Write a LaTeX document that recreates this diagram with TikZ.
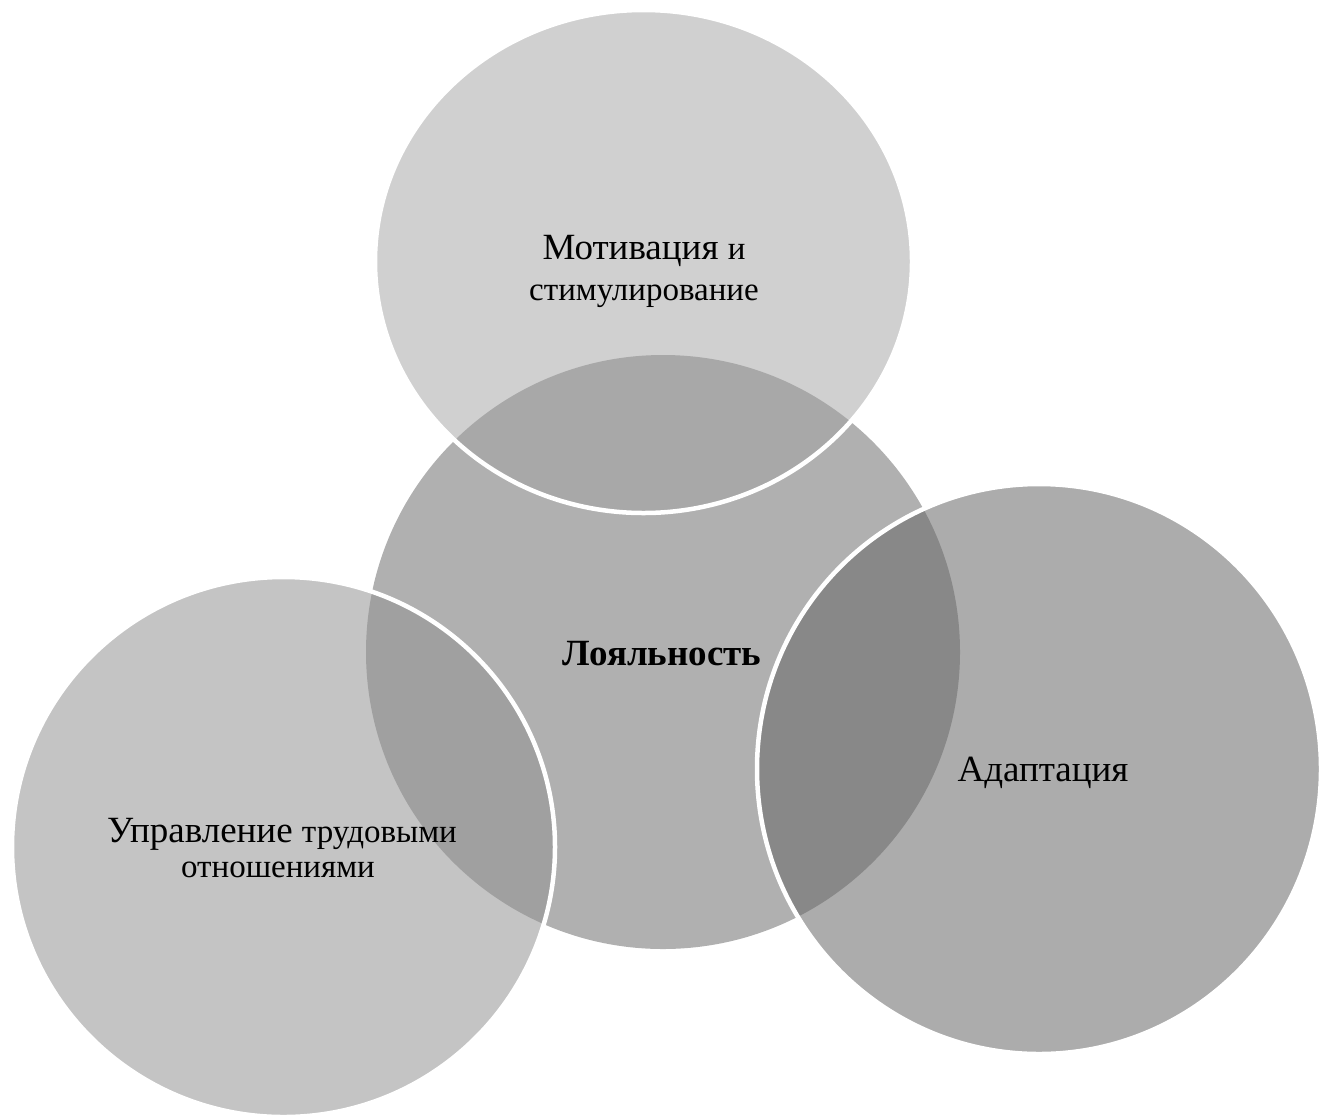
\documentclass[tikz,border=0pt]{standalone}
\usepackage{fontspec}
\setmainfont{Liberation Serif}
\definecolor{ctop}{HTML}{D0D0D0}
\definecolor{cmid}{HTML}{B0B0B0}
\definecolor{cleft}{HTML}{C4C4C4}
\definecolor{cright}{HTML}{ACACAC}
\definecolor{otop}{HTML}{A8A8A8}
\definecolor{oleft}{HTML}{A0A0A0}
\definecolor{oright}{HTML}{888888}
\begin{document}
\begin{tikzpicture}[x=1pt,y=-1pt,
  rim/.style={draw=white,line width=4.5pt},
  big/.style={font=\fontsize{37}{41}\selectfont,anchor=base,inner sep=0pt},
  small/.style={font=\fontsize{33}{41}\selectfont,anchor=base,inner sep=0pt}]
\useasboundingbox (0,0) rectangle (1321,1117);
% base fills
\fill[cmid] (663,652) circle [radius=297];
\fill[ctop] (643.5,261.5) ellipse [x radius=268.5, y radius=251.5];
\fill[cleft] (283.5,847) ellipse [x radius=271.5, y radius=270];
\fill[cright] (1039,769) ellipse [x radius=282, y radius=285];
% overlaps
\begin{scope}
  \clip (663,652) circle [radius=297];
  \fill[otop] (643.5,261.5) ellipse [x radius=268.5, y radius=251.5];
  \fill[oleft] (283.5,847) ellipse [x radius=271.5, y radius=270];
  \fill[oright] (1039,769) ellipse [x radius=282, y radius=285];
\end{scope}
% white rims
\draw[rim] (643.5,261.5) ellipse [x radius=268.5, y radius=251.5];
\draw[rim] (283.5,847) ellipse [x radius=271.5, y radius=270];
\draw[rim] (1039,769) ellipse [x radius=282, y radius=285];
% labels
\node[big] (mot1) at (644,259) {Мотивация {\fontsize{33}{41}\selectfont и}};
\node[small] (mot2) at (644,300) {стимулирование};
\node[big,font=\fontsize{37}{41}\selectfont\bfseries] (loy) at (662,665) {Лояльность};
\node[big] (adap) at (1043,781) {Адаптация};
\node[big] (upr1) at (282,842) {Управление {\fontsize{33}{41}\selectfont трудовыми}};
\node[small] (upr2) at (278,877) {отношениями};
\end{tikzpicture}
\end{document}
